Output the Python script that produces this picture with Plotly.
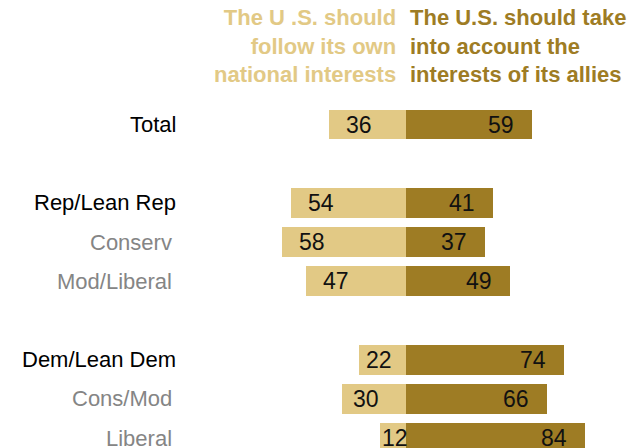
import plotly.graph_objects as go

categories = ["Total", "Rep/Lean Rep", "Conserv", "Mod/Liberal",
              "Dem/Lean Dem", "Cons/Mod", "Liberal"]
is_subgroup = [False, False, True, True, False, True, True]
own_interests = [36, 54, 58, 47, 22, 30, 12]
allies_interests = [59, 41, 37, 49, 74, 66, 84]

header_own = "The U .S. should<br>follow its own<br>national interests"
header_allies = "The U.S. should take<br>into account the<br>interests of its allies"

LIGHT = "#E2C985"
DARK = "#9E7C24"
FONT = "Liberation Sans, Arial, sans-serif"

# row positions: gap before each new main group
rows = []
pos = -1
for i, sub in enumerate(is_subgroup):
    if i == 0:
        pos = 0
    elif not sub:
        pos += 2
    else:
        pos += 1
    rows.append(pos)

W, H = 635, 448
CX = 406.0      # pixel of zero
PXU = 2.13      # pixels per percentage point
ROW0 = 124.5    # pixel y of first row
ROWSP = 39.2    # pixel spacing of rows

fig = go.Figure()
fig.add_trace(go.Bar(
    y=rows, x=[-v for v in own_interests], orientation="h",
    marker=dict(color=LIGHT, line=dict(width=0)), width=0.765,
    hoverinfo="skip", showlegend=False))
fig.add_trace(go.Bar(
    y=rows, x=allies_interests, orientation="h",
    marker=dict(color=DARK, line=dict(width=0)), width=0.765,
    hoverinfo="skip", showlegend=False))

ann = []
for r, cat, sub, a, b in zip(rows, categories, is_subgroup, own_interests, allies_interests):
    ann.append(dict(x=(178 if not sub else 174) / W, xref="paper", y=r, yref="y",
                    text=cat, showarrow=False, xanchor="right", yanchor="middle",
                    font=dict(family=FONT, size=22, color="#000000" if not sub else "#858585")))
    pad = 15 if a >= 36 else max(0, (a - 12) / 2)
    ann.append(dict(x=-a, xref="x", y=r, yref="y", text=str(a), showarrow=False,
                    xanchor="left", yanchor="middle", xshift=pad,
                    font=dict(family=FONT, size=23, color="#111111")))
    ann.append(dict(x=b, xref="x", y=r, yref="y", text=str(b), showarrow=False,
                    xanchor="right", yanchor="middle", xshift=-16,
                    font=dict(family=FONT, size=23, color="#111111")))

ann.append(dict(x=398 / W, xref="paper", y=1 - 3 / H, yref="paper", text="<b>" + header_own + "</b>",
                showarrow=False, xanchor="right", yanchor="top", align="right",
                font=dict(family=FONT, size=22, color=LIGHT)))
ann.append(dict(x=408 / W, xref="paper", y=1 - 3 / H, yref="paper", text="<b>" + header_allies + "</b>",
                showarrow=False, xanchor="left", yanchor="top", align="left",
                font=dict(family=FONT, size=22, color=DARK)))

fig.update_layout(
    width=W, height=H, barmode="relative",
    margin=dict(l=0, r=0, t=0, b=0),
    paper_bgcolor="white", plot_bgcolor="white",
    xaxis=dict(range=[(0 - CX) / PXU, (W - CX) / PXU], visible=False, fixedrange=True),
    yaxis=dict(range=[rows[-1] + (H - (ROW0 + rows[-1] * ROWSP)) / ROWSP, -ROW0 / ROWSP],
               visible=False, fixedrange=True),
    annotations=ann, bargap=0,
)

fig.write_html("out.html", config={"displayModeBar": False},
               post_script="document.body.style.margin='0';document.body.style.overflow='hidden';")
